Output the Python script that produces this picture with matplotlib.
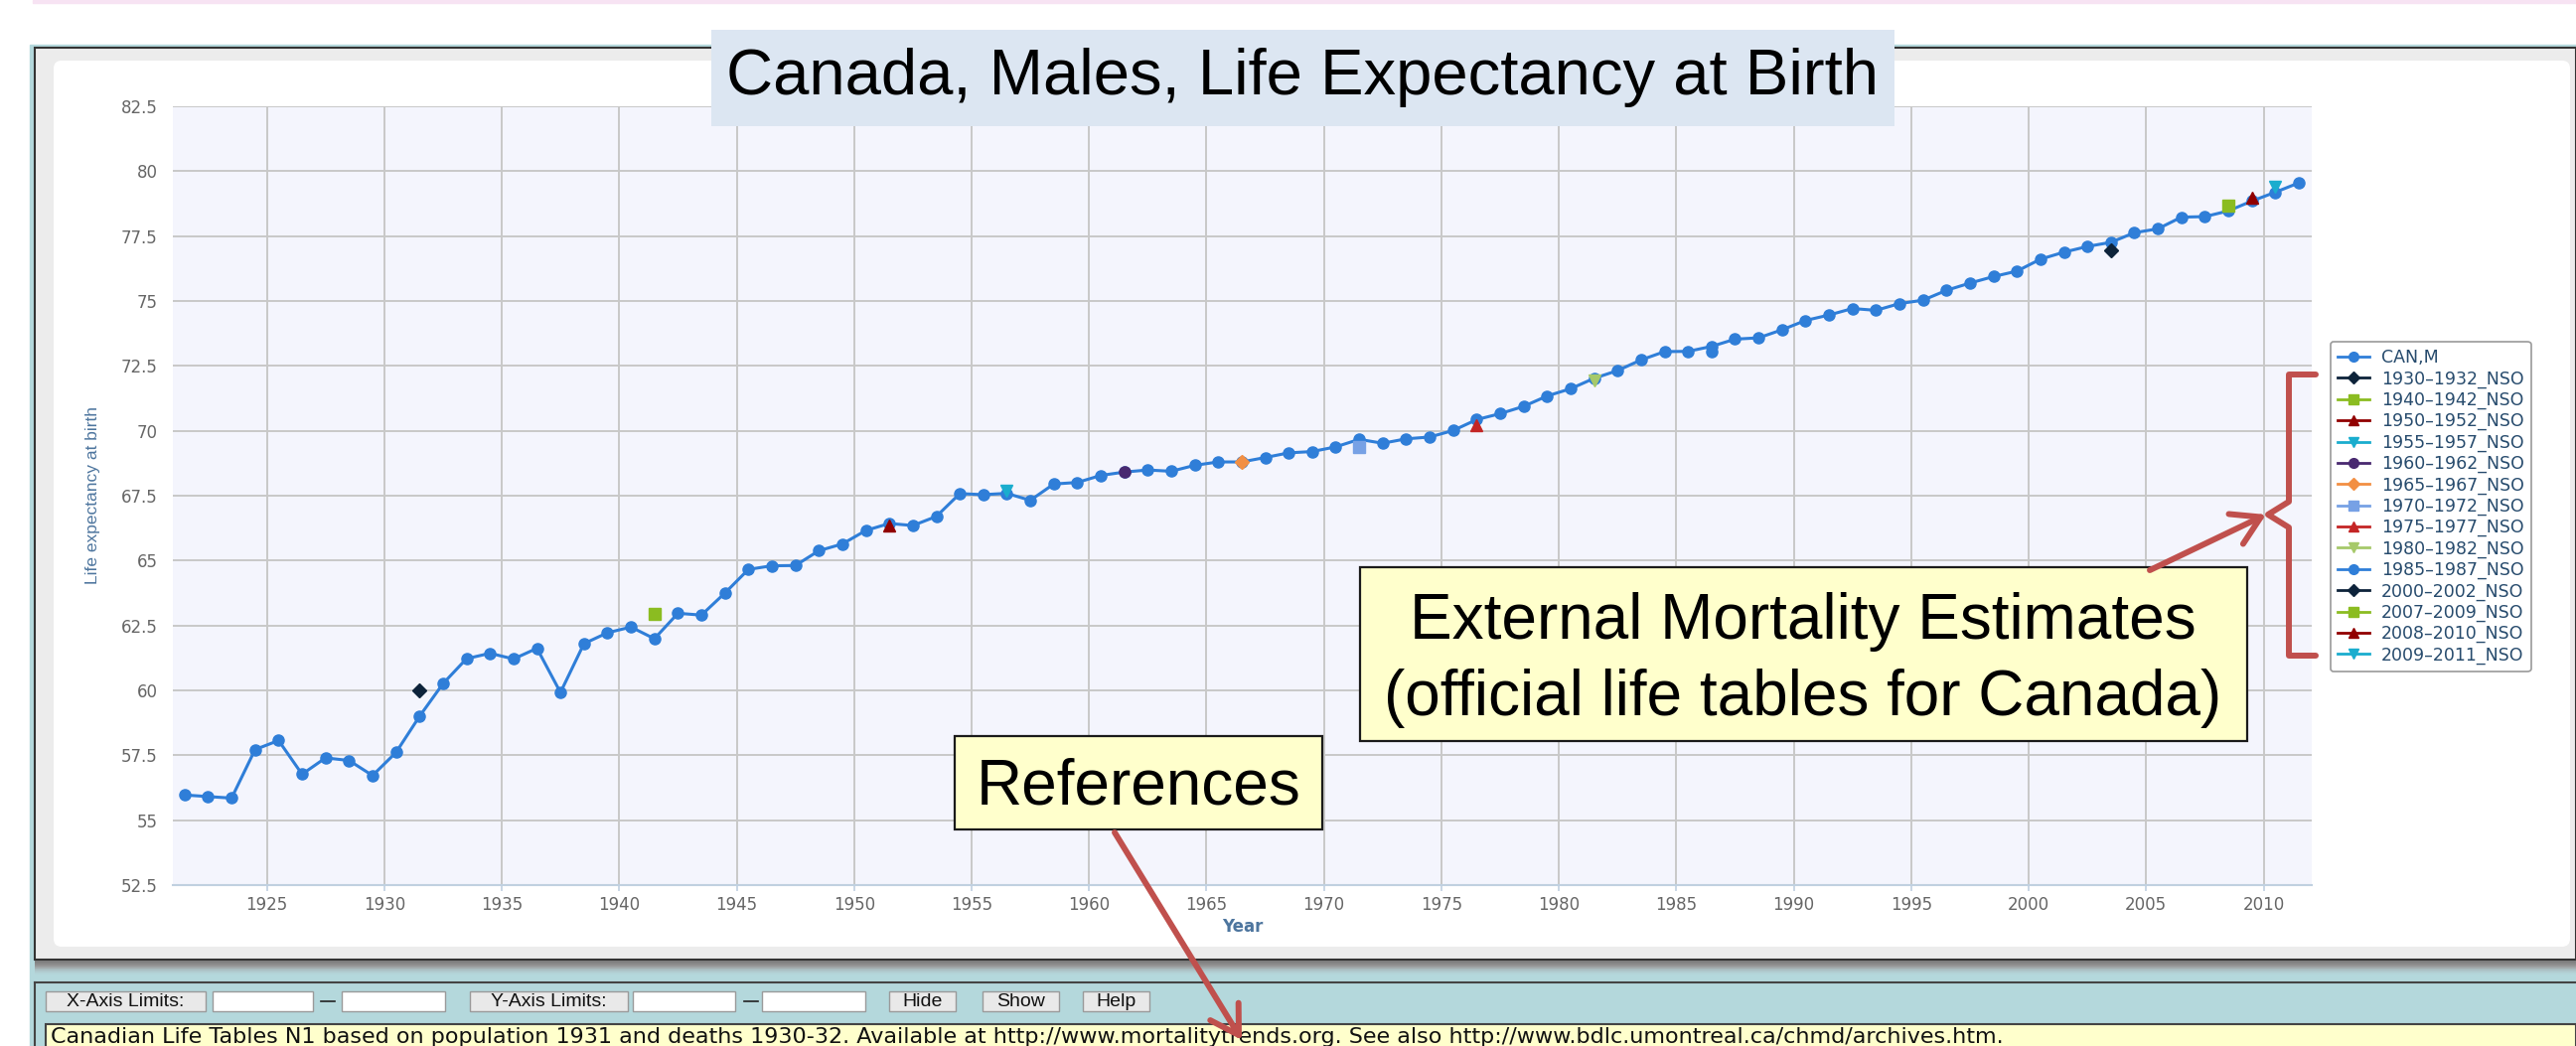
import numpy as np
import matplotlib.pyplot as plt
from matplotlib.patches import Rectangle, FancyBboxPatch
from matplotlib.lines import Line2D
from matplotlib.ticker import FuncFormatter

# CAN,M series, one value per year 1921-2011
years = np.arange(1921, 2012)
can_m = [55.97, 55.91, 55.85, 57.72, 58.07, 56.77, 57.40, 57.30, 56.72, 57.61,
         59.00, 60.26, 61.22, 61.43, 61.21, 61.62, 59.92, 61.80, 62.22, 62.44,
         61.99, 62.97, 62.90, 63.75, 64.66, 64.80, 64.81, 65.38, 65.64, 66.16,
         66.43, 66.35, 66.70, 67.58, 67.54, 67.59, 67.32, 67.95, 68.01, 68.28,
         68.41, 68.49, 68.44, 68.67, 68.80, 68.80, 68.97, 69.15, 69.20, 69.38,
         69.67, 69.52, 69.69, 69.76, 70.01, 70.43, 70.66, 70.94, 71.34, 71.62,
         72.02, 72.32, 72.73, 73.05, 73.06, 73.25, 73.53, 73.58, 73.89, 74.25,
         74.46, 74.71, 74.64, 74.90, 75.03, 75.41, 75.69, 75.94, 76.15, 76.61,
         76.88, 77.10, 77.26, 77.63, 77.78, 78.23, 78.25, 78.47, 78.85, 79.19,
         79.55]

# official life tables (NSO)
nso_labels = ['1930–1932_NSO', '1940–1942_NSO', '1950–1952_NSO', '1955–1957_NSO',
              '1960–1962_NSO', '1965–1967_NSO', '1970–1972_NSO', '1975–1977_NSO',
              '1980–1982_NSO', '1985–1987_NSO', '2000–2002_NSO', '2007–2009_NSO',
              '2008–2010_NSO', '2009–2011_NSO']
nso_year = [1931, 1941, 1951, 1956, 1961, 1966, 1971, 1976, 1981, 1986, 2003, 2008, 2009, 2010]
nso_e0 = [60.00, 62.95, 66.34, 67.68, 68.41, 68.80, 69.39, 70.20, 71.94, 73.05, 76.95, 78.67, 78.98, 79.40]
nso_colors = ['#0d233a', '#8bbc21', '#910000', '#1aadce', '#492970', '#f28f43', '#77a1e5',
              '#c42525', '#a6c96a', '#2f7ed8', '#0d233a', '#8bbc21', '#910000', '#1aadce']
nso_markers = ['D', 's', '^', 'v', 'o', 'D', 's', '^', 'v', 'o', 'D', 's', '^', 'v']

xticks = np.arange(1925, 2011, 5)
yticks = np.arange(52.5, 82.6, 2.5)

W, H = 2593, 1053
fig = plt.figure(figsize=(W / 100, H / 100), dpi=100)

# page background, in pixel units (y going down)
bg = fig.add_axes([0, 0, 1, 1], zorder=0)
bg.set_xlim(0, W)
bg.set_ylim(H, 0)
bg.axis('off')
bg.add_patch(Rectangle((33, 0), W - 33, 3, color='#f7e3f3'))
bg.add_patch(Rectangle((30, 45), W - 30, H - 45, color='#b4d8dc'))
bg.add_patch(Rectangle((35, 48), W - 35, 918, facecolor='#ececec', edgecolor='#333333', lw=1.5))
bg.add_patch(FancyBboxPatch((54, 61), 2533, 892, boxstyle='round,pad=0,rounding_size=8',
                            facecolor='white', edgecolor='none'))
shadow = ['#7d7d7d', '#888888', '#949494', '#a1a8a9', '#aabdc0', '#b0cace', '#b3d4d8']
for i, c in enumerate(shadow):
    bg.add_patch(Rectangle((35, 967 + 2 * i), W - 35, 2, color=c, lw=0))
bg.plot([35, W], [989, 989], color='#444444', lw=1.5)
bg.plot([35, 35], [989, H], color='#444444', lw=1.5)

buttons = [('X-Axis Limits:', 46, 207), ('Y-Axis Limits:', 473, 632),
           ('Hide', 895, 962), ('Show', 989, 1066), ('Help', 1090, 1157)]
for txt, x0, x1 in buttons:
    bg.add_patch(Rectangle((x0, 998), x1 - x0, 20, facecolor='#e9e9e9', edgecolor='#9a9a9a', lw=1))
    bg.text((x0 + x1) / 2, 1008.5, txt, ha='center', va='center', fontsize=14,
            family='Liberation Sans', color='#111111')
for x0, x1 in [(214, 315), (344, 448), (637, 740), (767, 871)]:
    bg.add_patch(Rectangle((x0, 998), x1 - x0, 20, facecolor='white', edgecolor='#9a9a9a', lw=1))
for xd in [330, 756]:
    bg.plot([xd - 7, xd + 7], [1008, 1008], color='#222222', lw=1.2)

bg.add_patch(Rectangle((46, 1031), W - 46, 40, facecolor='#ffffcc', edgecolor='#444444', lw=1.5))
bg.text(51, 1050, 'Canadian Life Tables N1 based on population 1931 and deaths 1930-32. '
        'Available at http://www.mortalitytrends.org. See also http://www.bdlc.umontreal.ca/chmd/archives.htm.',
        ha='left', va='baseline', fontsize=16, family='DejaVu Sans', color='#111111')

# chart
ax = fig.add_axes([174 / W, 1 - 891 / H, (2327 - 174) / W, (891 - 107) / H], zorder=1)
ax.set_facecolor('#f4f5fd')
ax.plot(years + 0.5, can_m, color='#2f7ed8', lw=2.2, marker='o', ms=8, zorder=3,
        label='CAN,M')
for xv, yv, c, m in zip(nso_year, nso_e0, nso_colors, nso_markers):
    ms = 7 if m == 'D' else 8
    ax.plot([xv + 0.5], [yv], ls='none', marker=m, color=c, ms=ms, zorder=4)
ax.set_xlim(1921, 2012.05)
ax.set_ylim(52.5, 82.5)
ax.set_xticks(xticks)
ax.set_yticks(yticks)
ax.yaxis.set_major_formatter(FuncFormatter(lambda v, p: '%g' % v))
ax.grid(True, color='#c8c8c8', lw=1.4)
ax.set_axisbelow(True)
for s in ['top', 'right', 'left']:
    ax.spines[s].set_visible(False)
ax.spines['bottom'].set_color('#c0d0e0')
ax.spines['bottom'].set_linewidth(1.5)
ax.tick_params(axis='y', length=0, pad=11, labelsize=12, labelcolor='#666666')
ax.tick_params(axis='x', length=4, width=1.2, color='#c0d0e0', pad=4, labelsize=12,
               labelcolor='#666666')
ax.set_xlabel('Year', fontsize=12, fontweight='bold', color='#4d759e', labelpad=3)
ax.set_ylabel('Life expectancy at birth', fontsize=12.5, color='#4d759e',
              family=['Liberation Sans Narrow', 'Liberation Sans'])
ax.yaxis.set_label_coords((101 - 174) / (2327 - 174), 0.5)

handles = [Line2D([], [], color='#2f7ed8', marker='o', lw=2, ms=7)]
for c, m in zip(nso_colors, nso_markers):
    handles.append(Line2D([], [], color=c, marker=m, lw=2, ms=6 if m == 'D' else 7))
leg = fig.legend(handles, ['CAN,M'] + nso_labels, loc='upper left',
                 bbox_to_anchor=(2346 / W, 1 - 344 / H), fontsize=12.5, labelcolor='#274b6d',
                 frameon=True, fancybox=True, edgecolor='#9a9a9a', framealpha=1,
                 labelspacing=0.18, borderpad=0.42, handlelength=1.8, handletextpad=0.7,
                 borderaxespad=0, numpoints=1)
leg.get_frame().set_linewidth(1.2)

# slide annotations on top
ov = fig.add_axes([0, 0, 1, 1], zorder=6)
ov.set_xlim(0, W)
ov.set_ylim(H, 0)
ov.axis('off')
ov.patch.set_alpha(0)

ov.add_patch(Rectangle((716, 30), 1191, 97, facecolor='#dce6f2', edgecolor='none'))
ov.text(1311, 78, 'Canada, Males, Life Expectancy at Birth', ha='center', va='center',
        fontsize=47, family='Liberation Sans', color='black')

ov.add_patch(Rectangle((1369, 571), 893, 175, facecolor='#ffffcc', edgecolor='#1a1a1a', lw=1.6))
ov.text(1815, 643, 'External Mortality Estimates', ha='center', va='baseline',
        fontsize=46, family='Liberation Sans', color='black')
ov.text(1815, 720, '(official life tables for Canada)', ha='center', va='baseline',
        fontsize=46, family='Liberation Sans', color='black')

ov.add_patch(Rectangle((961, 741), 370, 94, facecolor='#ffffcc', edgecolor='#1a1a1a', lw=1.6))
ov.text(1146, 810, 'References', ha='center', va='baseline',
        fontsize=46, family='Liberation Sans', color='black')

red = '#c0504d'
ov.plot([2331, 2304, 2304, 2283, 2304, 2304, 2331], [377, 377, 505, 518, 531, 660, 660],
        color=red, lw=4.3, solid_joinstyle='round', solid_capstyle='round')
ov.annotate('', xy=(2281, 518), xytext=(2164, 574),
            arrowprops=dict(arrowstyle='->,head_length=0.5,head_width=0.3', color=red,
                            lw=4.3, mutation_scale=40, shrinkA=0, shrinkB=0))
ov.annotate('', xy=(1250, 1047), xytext=(1122, 838),
            arrowprops=dict(arrowstyle='->,head_length=0.5,head_width=0.3', color=red,
                            lw=4.3, mutation_scale=40, shrinkA=0, shrinkB=0))

fig.savefig('out.png', dpi=100)
